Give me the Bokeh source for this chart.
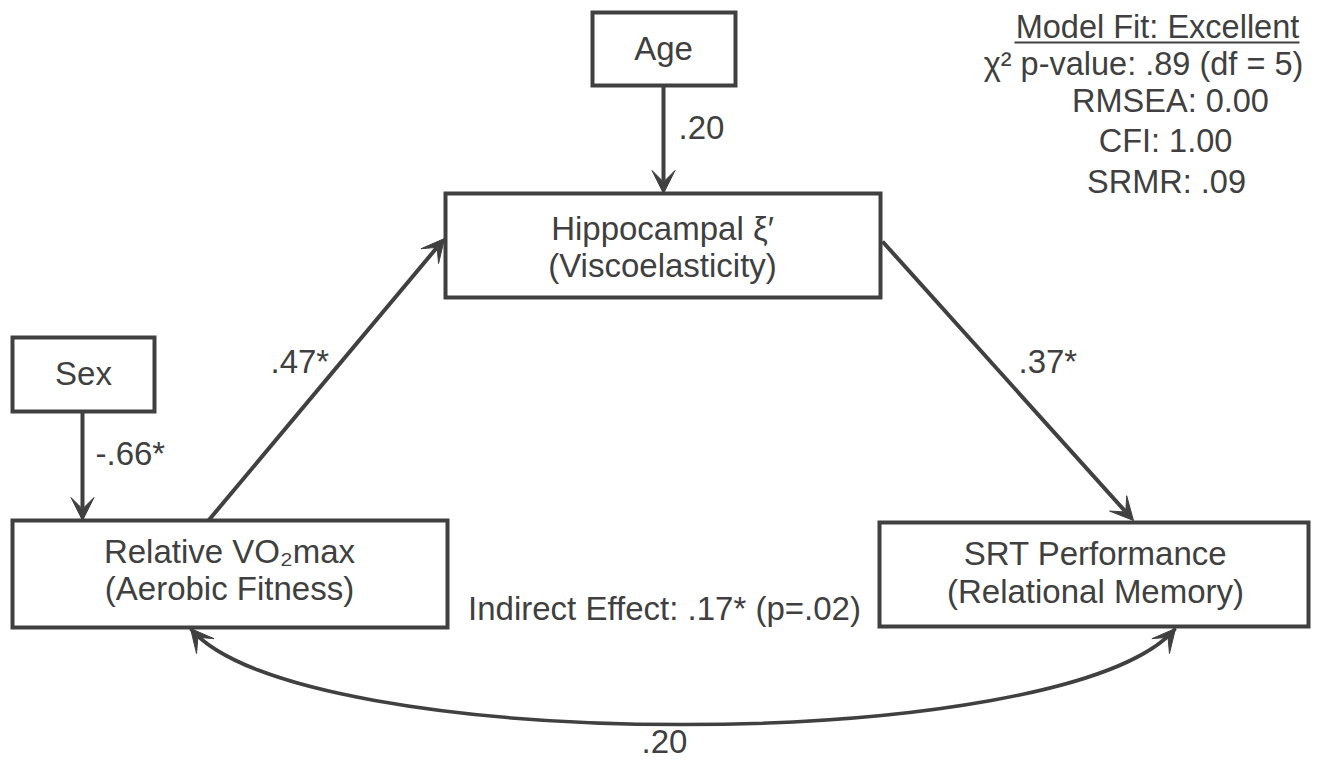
from bokeh.plotting import figure
from bokeh.models import Range1d, Arrow, VeeHead
from bokeh.core.properties import value
from bokeh.embed import file_html
from bokeh.resources import INLINE

# ---------------- data ----------------
node_ids = ["age", "sex", "hippo", "vo2", "srt"]
node_line1 = ["Age", "Sex", "Hippocampal ξ′", "Relative VO₂max", "SRT Performance"]
node_line2 = ["", "", "(Viscoelasticity)", "(Aerobic Fitness)", "(Relational Memory)"]

path_from = ["age", "sex", "vo2", "hippo"]
path_to = ["hippo", "vo2", "hippo", "srt"]
path_coef = [".20", "-.66*", ".47*", ".37*"]

covariance_pair = ["vo2", "srt"]
covariance_coef = ".20"
indirect_effect = "Indirect Effect: .17* (p=.02)"

fit_title = "Model Fit: Excellent"
fit_stats = ["χ² p-value: .89 (df = 5)", "RMSEA: 0.00", "CFI: 1.00", "SRMR: .09"]

# ---------------- layout (pixel space) ----------------
box = {  # left, right, top, bottom
    "age": (592, 735, 12, 85),
    "sex": (12, 154, 337, 411),
    "hippo": (445, 880, 193, 297),
    "vo2": (12, 447, 520, 627),
    "srt": (879, 1308, 522, 626),
}
text_x = {"age": 663, "sex": 83, "hippo": 662, "vo2": 229, "srt": 1095}
line1_y = {"age": 48, "sex": 373, "hippo": 228, "vo2": 551, "srt": 553}
line2_y = {"hippo": 265, "vo2": 588, "srt": 591}

path_geom = [  # (x0, y0, x1, y1)
    (663, 85, 663, 193),
    (82, 411, 82, 520),
    (208, 520, 444, 238),
    (882, 241, 1133, 520),
]
coef_pos = [(678, 127), (95, 453), (270, 361), (1018, 361)]

curve = dict(x0=190, y0=628, x1=1175, y1=628, cx0=298, cy0=756, cx1=1067, cy1=756)

COL = "#404040"
FONT = "Liberation Sans"
FS = "33px"
FS_FIT = "32.5px"

W, H = 1311, 761
p = figure(width=W, height=H, output_backend="svg", toolbar_location=None,
           x_range=Range1d(0, W), y_range=Range1d(H, 0),
           min_border=0, outline_line_color=None)
p.axis.visible = False
p.grid.visible = False
p.background_fill_color = "white"
p.border_fill_color = "white"

# boxes
p.quad(left=[box[n][0] for n in node_ids], right=[box[n][1] for n in node_ids],
       top=[box[n][2] for n in node_ids], bottom=[box[n][3] for n in node_ids],
       fill_color="white", line_color=COL, line_width=4, line_join="miter")

# node labels
p.text(x=[text_x[n] for n in node_ids], y=[line1_y[n] for n in node_ids], text=node_line1,
       text_align="center", text_baseline="alphabetic", text_color=COL,
       text_font=value(FONT), text_font_size=FS)
l2 = [i for i, n in enumerate(node_ids) if node_line2[i]]
p.text(x=[text_x[node_ids[i]] for i in l2], y=[line2_y[node_ids[i]] for i in l2],
       text=[node_line2[i] for i in l2],
       text_align="center", text_baseline="alphabetic", text_color=COL,
       text_font=value(FONT), text_font_size=FS)

# directed paths
for (x0, y0, x1, y1) in path_geom:
    p.add_layout(Arrow(x_start=x0, y_start=y0, x_end=x1, y_end=y1,
                       line_color=COL, line_width=4,
                       end=VeeHead(size=23, fill_color=COL, line_color=COL, line_width=1)))

p.text(x=[c[0] for c in coef_pos], y=[c[1] for c in coef_pos], text=path_coef,
       text_align="left", text_baseline="alphabetic", text_color=COL,
       text_font=value(FONT), text_font_size=FS)

# covariance curve (double-headed)
p.bezier(x0=[curve["x0"]], y0=[curve["y0"]], x1=[curve["x1"]], y1=[curve["y1"]],
         cx0=[curve["cx0"]], cy0=[curve["cy0"]], cx1=[curve["cx1"]], cy1=[curve["cy1"]],
         line_color=COL, line_width=3.5)
for (tx, ty, ccx, ccy) in [(curve["x0"], curve["y0"], curve["cx0"], curve["cy0"]),
                           (curve["x1"], curve["y1"], curve["cx1"], curve["cy1"])]:
    dx, dy = ccx - tx, ccy - ty
    n = (dx * dx + dy * dy) ** 0.5
    p.add_layout(Arrow(x_start=tx + dx / n * 12, y_start=ty + dy / n * 12, x_end=tx, y_end=ty,
                       line_alpha=0,
                       end=VeeHead(size=23, fill_color=COL, line_color=COL, line_width=1)))

p.text(x=[664], y=[741], text=[covariance_coef],
       text_align="center", text_baseline="alphabetic", text_color=COL,
       text_font=value(FONT), text_font_size=FS)

p.text(x=[664], y=[608], text=[indirect_effect],
       text_align="center", text_baseline="alphabetic", text_color=COL,
       text_font=value(FONT), text_font_size=FS)

# model fit block
p.text(x=[1157], y=[26], text=[fit_title], text_align="center", text_baseline="alphabetic",
       text_color=COL, text_font=value(FONT), text_font_size=FS_FIT)
p.segment(x0=[1014], y0=[42], x1=[1299], y1=[42], line_color=COL, line_width=2)
p.text(x=[1143, 1170, 1165, 1166], y=[63, 100, 140, 181], text=fit_stats,
       text_align="center", text_baseline="alphabetic", text_color=COL,
       text_font=value(FONT), text_font_size=FS_FIT)

open("out.html", "w").write(file_html(p, INLINE))
